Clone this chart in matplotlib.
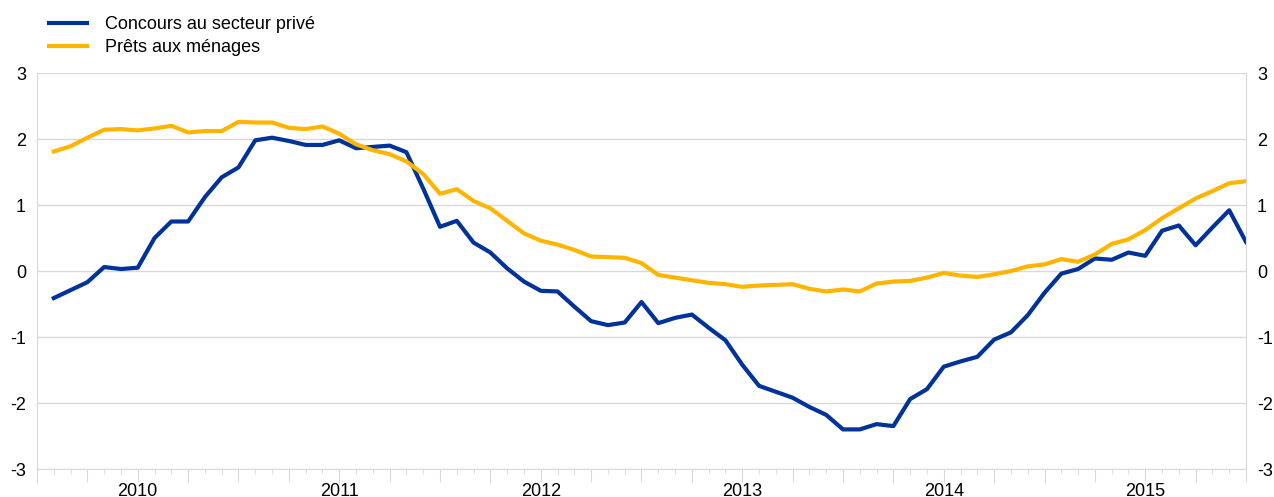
import matplotlib.pyplot as plt
import numpy as np

plt.rcParams['axes.unicode_minus'] = False
plt.rcParams['font.family'] = 'Liberation Sans'

# fin de mois, de janvier 2010 a decembre 2015
mois = np.arange(1, 73)

concours_prive = [
    -0.41, -0.29, -0.17, 0.06, 0.03, 0.05, 0.50, 0.75, 0.75, 1.12, 1.42, 1.57,
    1.98, 2.02, 1.97, 1.91, 1.91, 1.98, 1.86, 1.88, 1.90, 1.80, 1.25, 0.67,
    0.76, 0.43, 0.28, 0.04, -0.16, -0.30, -0.31, -0.54, -0.76, -0.82, -0.78, -0.47,
    -0.79, -0.71, -0.66, -0.86, -1.05, -1.42, -1.74, -1.83, -1.92, -2.06, -2.18, -2.40,
    -2.40, -2.32, -2.35, -1.94, -1.79, -1.45, -1.37, -1.30, -1.04, -0.93, -0.67, -0.33,
    -0.04, 0.03, 0.19, 0.17, 0.28, 0.23, 0.61, 0.69, 0.39, 0.66, 0.92, 0.44,
]

prets_menages = [
    1.81, 1.89, 2.02, 2.14, 2.15, 2.13, 2.16, 2.20, 2.10, 2.12, 2.12, 2.26,
    2.25, 2.25, 2.17, 2.15, 2.19, 2.08, 1.92, 1.83, 1.77, 1.66, 1.47, 1.17,
    1.24, 1.06, 0.95, 0.76, 0.57, 0.46, 0.40, 0.32, 0.22, 0.21, 0.20, 0.12,
    -0.06, -0.10, -0.14, -0.18, -0.20, -0.24, -0.22, -0.21, -0.20, -0.27, -0.31, -0.28,
    -0.31, -0.19, -0.16, -0.15, -0.10, -0.03, -0.07, -0.09, -0.05, 0.00, 0.07, 0.10,
    0.18, 0.14, 0.25, 0.41, 0.48, 0.62, 0.80, 0.95, 1.10, 1.21, 1.33, 1.36,
]

annees = ['2010', '2011', '2012', '2013', '2014', '2015']

gris = '#d9d9d9'

fig = plt.figure(figsize=(12.74, 4.97), dpi=100)
ax = fig.add_axes([37/1274, 1 - 469/497, (1246 - 37)/1274, (469 - 73)/497])

l1, = ax.plot(mois, concours_prive, color='#003299', lw=3, label='Concours au secteur privé')
l2, = ax.plot(mois, prets_menages, color='#ffb400', lw=3, label='Prêts aux ménages')

ax.set_xlim(0, 72)
ax.set_ylim(-3, 3)
ax.set_yticks(range(-3, 4))
ax.yaxis.grid(True, color=gris, lw=1)
ax.set_axisbelow(True)

for s in ['left', 'right', 'bottom']:
    ax.spines[s].set_color(gris)
ax.spines['top'].set_visible(False)

# ticks trimestriels longs, mensuels courts
ax.set_xticks(range(0, 73, 3))
labels = []
for q in range(0, 73, 3):
    if q % 12 == 6:
        labels.append(annees[q // 12])
    else:
        labels.append('')
ax.set_xticklabels(labels)
ax.set_xticks(range(0, 73), minor=True)
ax.tick_params(axis='x', which='major', length=9, color=gris, pad=1, labelsize=13)
ax.tick_params(axis='x', which='minor', length=3.6, color=gris)
ax.tick_params(axis='y', length=0, labelsize=13, pad=8, labelright=True)

fig.legend(handles=[l1, l2], loc='upper left', bbox_to_anchor=(49/1274, 1 - 16/497),
           frameon=False, handlelength=2.1, handletextpad=1.0, labelspacing=0.36,
           borderpad=0, borderaxespad=0, fontsize=13)

plt.savefig('out.png', dpi=100)
